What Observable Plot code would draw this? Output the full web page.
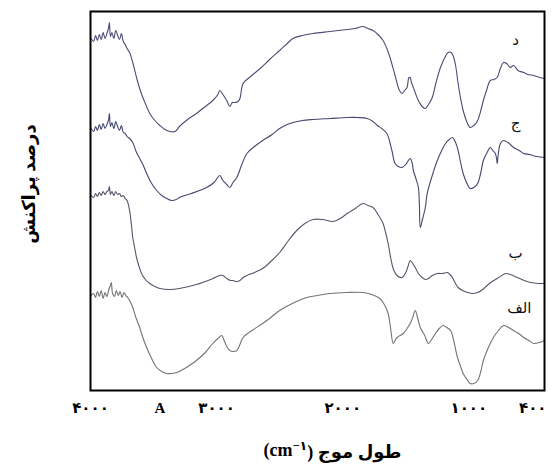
<!DOCTYPE html>
<html><head><meta charset="utf-8">
<script src="https://cdn.jsdelivr.net/npm/d3@7"></script>
<script src="https://cdn.jsdelivr.net/npm/@observablehq/plot@0.6"></script>
<style>body{margin:0;background:#fff}</style>
</head><body><div id="chart"></div>
<script>
// Wavenumber (cm^-1) and relative transmittance (arbitrary units)
const dWn = [3995,3975,3960,3945,3930,3915,3900,3885,3870,3858,3850,3842,3830,3815,3800,3785,3770,3755,3740,3725,3710,3690,3665,3635,3610,3585,3555,3530,3490,3450,3410,3370,3330,3295,3230,3160,3090,3030,2990,2975,2950,2920,2895,2875,2855,2830,2815,2790,2740,2655,2580,2500,2440,2395,2320,2235,2100,1965,1900,1840,1800,1760,1720,1680,1650,1625,1585,1550,1530,1510,1490,1475,1465,1455,1440,1420,1400,1370,1345,1320,1290,1260,1225,1190,1165,1140,1125,1105,1085,1065,1045,1020,990,960,930,905,885,860,830,800,775,750,725,700,670,645,610,565,530,485,440,400];
const dT  = [352,349,355,350,356,351,358,352,357,362,368,354,358,352,360,355,351,357,349,346,342,338,328,313,302,293,284,277,270,265,261,259,259,264,271,277,284,290,296,300,296,290,284,288,288,289,292,307,313,322,331,340,347,352,355,357,359,361,362,364,362,360,356,350,342,333,315,300,297,300,303,313,313,308,303,296,290,284,282,286,293,308,323,333,338,338,335,325,307,292,280,270,263,265,270,280,290,300,310,311,313,322,328,327,323,325,320,318,316,315,313,312];

const jWn = [3995,3975,3960,3945,3930,3915,3900,3885,3870,3858,3850,3842,3830,3815,3800,3785,3770,3755,3740,3725,3710,3690,3665,3635,3610,3585,3555,3520,3475,3435,3395,3355,3320,3295,3200,3080,3020,2975,2950,2920,2895,2870,2840,2800,2760,2700,2635,2560,2500,2440,2395,2320,2235,2100,1965,1880,1805,1760,1725,1690,1650,1630,1610,1585,1560,1530,1500,1480,1465,1450,1440,1420,1400,1392,1385,1370,1345,1330,1290,1250,1215,1185,1155,1130,1105,1085,1065,1045,1015,990,960,930,905,885,855,830,810,790,780,775,765,750,725,690,645,600,565,520,460,400];
const jT  = [262,259,264,260,266,261,267,262,266,270,277,264,268,262,269,264,260,265,258,257,254,252,248,238,232,226,217,208,200,195,192,190,191,193,197,203,208,215,210,206,203,208,213,226,237,244,250,256,262,266,268,270,271,272,273,273,272,269,265,262,257,250,240,227,224,223,226,230,232,228,220,212,203,185,163,170,183,197,215,230,240,247,251,253,248,240,228,217,207,202,203,207,218,230,238,243,240,237,232,227,238,247,250,248,243,240,237,236,234,233];

const bWn = [3995,3975,3960,3945,3930,3915,3900,3885,3870,3858,3850,3842,3830,3815,3800,3785,3770,3755,3740,3725,3710,3690,3675,3665,3650,3635,3615,3595,3565,3530,3490,3450,3370,3295,3160,3030,2975,2950,2920,2890,2870,2840,2815,2790,2760,2700,2635,2570,2500,2430,2365,2300,2235,2160,2075,2020,1965,1900,1840,1800,1760,1720,1680,1660,1640,1620,1600,1570,1530,1500,1480,1465,1445,1425,1400,1370,1345,1320,1290,1250,1210,1170,1150,1130,1110,1085,1050,1010,970,930,890,855,815,775,740,710,670,615,560,510,450,400];
const bT  = [195,193,197,194,198,195,199,196,199,200,204,196,199,195,199,196,197,194,195,192,190,180,165,153,143,133,124,117,111,107,104,102,101,102,106,112,115,115,112,110,110,109,110,113,115,118,122,129,138,150,160,167,171,171,169,172,177,182,187,185,183,176,167,158,147,133,122,115,113,118,125,130,127,123,117,113,111,112,115,117,117,118,116,113,108,103,100,98,97,98,101,105,109,112,115,117,116,113,110,108,107,107];

const aWn = [3995,3975,3960,3945,3930,3915,3900,3885,3870,3855,3845,3835,3825,3810,3795,3780,3765,3750,3735,3720,3705,3690,3675,3665,3640,3610,3585,3555,3515,3475,3435,3395,3355,3315,3240,3160,3090,3030,2990,2960,2940,2915,2895,2870,2840,2815,2790,2720,2635,2570,2500,2400,2285,2200,2100,1970,1840,1770,1705,1670,1640,1620,1600,1585,1570,1545,1520,1490,1465,1445,1425,1405,1385,1350,1320,1295,1265,1235,1205,1175,1145,1120,1090,1065,1045,1015,990,960,930,905,885,845,805,765,725,685,645,605,565,525,485,440,400];
const aT  = [95,97,93,99,94,100,92,98,94,101,104,108,97,94,100,95,99,93,98,95,93,90,86,83,73,63,53,43,32,23,19,17,17,18,23,30,38,47,52,55,50,43,40,39,40,46,53,60,67,73,80,87,93,95,97,98,98,96,92,86,77,62,47,50,53,55,57,62,67,73,80,72,63,55,47,51,57,62,65,63,60,50,33,24,17,11,7,7,10,19,30,43,53,60,65,63,60,57,53,50,47,48,50];

const seriesNames = ["د","ج","ب","الف"];
const seriesWn = [dWn, jWn, bWn, aWn];
const seriesT  = [dT, jT, bT, aT];
const seriesColors = ["#4a4e74","#44486e","#55566a","#737378"];

// Curve labels
const labelNames = ["د","ج","ب","الف"];
const labelWn = [630, 630, 630, 600];
const labelT  = [350, 267, 137, 82];

// Axis ticks
const tickValues = [4000, 3450, 3000, 2000, 1000];
const tickLabels = ["۴۰۰۰","A","۳۰۰۰","۲۰۰۰","۱۰۰۰"];
const endTickValues = [400];
const endTickLabels = ["۴۰۰"];

const yTitle = "درصد پراکنش";
const xTitleMain = "طول موج";
const xTitleUnit = "(cm";
const xTitleSup = "−۱";

const rows = [];
seriesNames.forEach((name, i) => seriesWn[i].forEach((w, j) => rows.push({series: name, wn: w, t: seriesT[i][j]})));

const fontFam = "'Liberation Serif', 'DejaVu Sans', serif";

const chart = Plot.plot({
  width: 557, height: 471,
  marginLeft: 90, marginRight: 13, marginTop: 11, marginBottom: 81,
  x: {domain: [4000, 400], axis: null},
  y: {domain: [0, 379], axis: null},
  style: {fontFamily: fontFam, background: "#fff", color: "#000"},
  marks: [
    ...seriesNames.map((name, i) => Plot.line(rows.filter(r => r.series === name), {x: "wn", y: "t", stroke: seriesColors[i], strokeWidth: 1.1, curve: "catmull-rom"})),
    Plot.frame({stroke: "#000", strokeWidth: 2}),
    Plot.axisX(tickValues, {tickSize: 0, tickPadding: 12, fontSize: 15, fontWeight: "bold", label: null,
      tickFormat: d => tickLabels[tickValues.indexOf(d)]}),
    Plot.axisX(endTickValues, {tickSize: 0, tickPadding: 12, fontSize: 15, fontWeight: "bold", label: null, textAnchor: "end", dx: 2,
      tickFormat: d => endTickLabels[endTickValues.indexOf(d)]}),
    Plot.text(labelNames, {x: (d, i) => labelWn[i], y: (d, i) => labelT[i], text: d => d, fontSize: 15, fill: "#111"}),
    Plot.text([yTitle], {frameAnchor: "left", textAnchor: "middle", dx: -61, dy: -17, rotate: -90, fontSize: 18, fontWeight: "bold"}),
    Plot.text(["XTITLE"], {frameAnchor: "bottom", textAnchor: "middle", dx: 15, dy: 65, fontSize: 18, fontWeight: "bold"})
  ]
});

// Build the x title with a superscript
d3.select(chart).selectAll("text").filter(function() { return this.textContent === "XTITLE"; }).each(function() {
  const t = d3.select(this);
  t.text(null).attr("direction", "ltr");
  t.append("tspan").text(xTitleUnit);
  t.append("tspan").attr("dy", "-0.45em").attr("font-size", "0.7em").text(xTitleSup);
  t.append("tspan").attr("dy", "0.45em").text(") " + xTitleMain);
});

document.getElementById("chart").appendChild(chart);
</script>
</body></html>
